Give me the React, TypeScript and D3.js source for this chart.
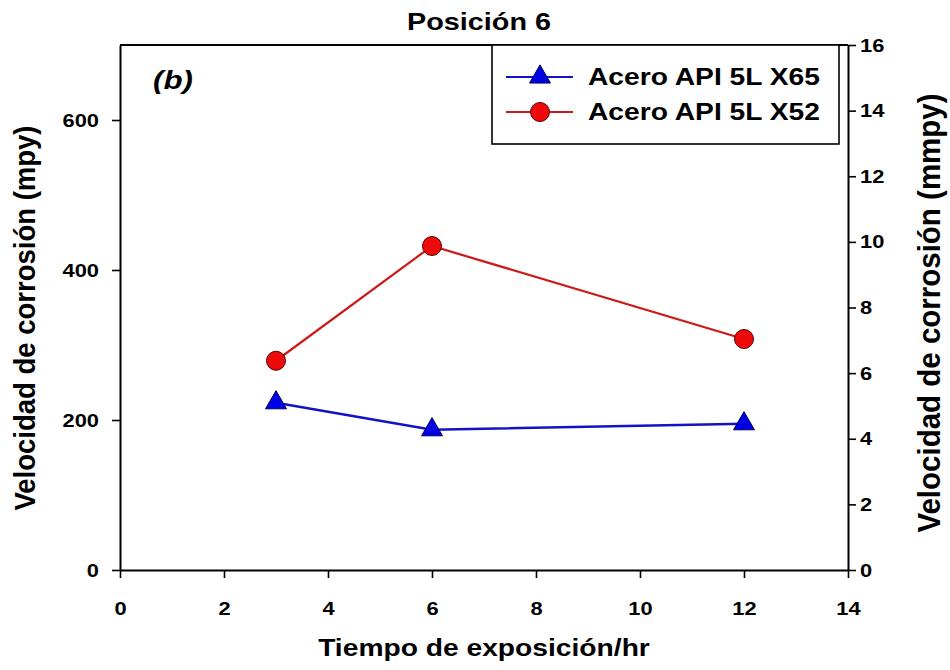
import { useEffect, useRef } from 'react';
import * as d3 from 'd3';

// exposure time (hr)
const timeValues = [3, 6, 12];
// corrosion rate (mpy)
const x65Values = [223, 187, 195];
const x52Values = [279, 432, 308];

const xTicks = [0, 2, 4, 6, 8, 10, 12, 14];
const leftTicks = [0, 200, 400, 600];
const rightTicks = [0, 2, 4, 6, 8, 10, 12, 14, 16];

const seriesNames = ['Acero API 5L X65', 'Acero API 5L X52'];
const titleText = 'Posición 6';
const panelText = '(b)';
const xLabel = 'Tiempo de exposición/hr';
const leftLabel = 'Velocidad de corrosión (mpy)';
const rightLabel = 'Velocidad de corrosión (mmpy)';

const FONT = '"Liberation Sans", Arial, sans-serif';
const STRETCH = 1.2; // the original picture is a bit wide, glyphs are stretched

const App = () => {
  const svgRef = useRef<SVGSVGElement>(null);

  useEffect(() => {
    const width = 950;
    const height = 670;
    const margin = { top: 45, right: 102, bottom: 100, left: 120 };

    const svg = d3.select(svgRef.current);
    svg.selectAll('*').remove();
    svg.attr('width', width).attr('height', height);

    const xScale = d3.scaleLinear().domain([0, 14]).range([margin.left, width - margin.right]);
    const yLeft = d3.scaleLinear().domain([0, 700]).range([height - margin.bottom, margin.top]);
    const yRight = d3.scaleLinear().domain([0, 16]).range([height - margin.bottom, margin.top]);

    // widen text like the source image
    const stretch = (sel: any, factor = STRETCH) => {
      sel.each(function (this: SVGTextElement) {
        const w = this.getComputedTextLength();
        d3.select(this).attr('textLength', w * factor).attr('lengthAdjust', 'spacingAndGlyphs');
      });
    };

    const styleAxis = (g: any) => {
      g.attr('font-size', 19).attr('font-family', FONT).attr('font-weight', 'bold');
      g.select('.domain').attr('stroke', '#000').attr('stroke-width', 2);
      g.selectAll('.tick line').attr('stroke', '#000').attr('stroke-width', 1.6);
      g.selectAll('.tick text').attr('fill', '#000');
      stretch(g.selectAll('.tick text'), 1.15);
    };

    // x axis
    const gx = svg.append('g')
      .attr('transform', `translate(0, ${height - margin.bottom})`)
      .call(d3.axisBottom(xScale).tickValues(xTicks).tickSize(8).tickSizeOuter(0).tickPadding(24).tickFormat(d3.format('d')));
    styleAxis(gx);

    // left axis
    const gl = svg.append('g')
      .attr('transform', `translate(${margin.left}, 0)`)
      .call(d3.axisLeft(yLeft).tickValues(leftTicks).tickSize(8).tickSizeOuter(0).tickPadding(13).tickFormat(d3.format('d')));
    styleAxis(gl);

    // right axis
    const gr = svg.append('g')
      .attr('transform', `translate(${width - margin.right}, 0)`)
      .call(d3.axisRight(yRight).tickValues(rightTicks).tickSize(8).tickSizeOuter(0).tickPadding(4).tickFormat(d3.format('d')));
    styleAxis(gr);

    // top border of the frame
    svg.append('line')
      .attr('x1', margin.left).attr('x2', width - margin.right)
      .attr('y1', margin.top).attr('y2', margin.top)
      .attr('stroke', '#000').attr('stroke-width', 2);

    // lines
    const line = d3.line<number>()
      .x((_, i) => xScale(timeValues[i]))
      .y(d => yLeft(d));

    svg.append('path')
      .datum(x52Values)
      .attr('fill', 'none')
      .attr('stroke', '#cc1a1a')
      .attr('stroke-width', 2.2)
      .attr('d', line);

    svg.append('path')
      .datum(x65Values)
      .attr('fill', 'none')
      .attr('stroke', '#1212c8')
      .attr('stroke-width', 2.4)
      .attr('d', line);

    const triangle = d3.symbol().type(d3.symbolTriangle).size(190);

    svg.append('g').selectAll('circle')
      .data(x52Values)
      .join('circle')
      .attr('cx', (_, i) => xScale(timeValues[i]))
      .attr('cy', d => yLeft(d))
      .attr('r', 9.5)
      .attr('fill', '#ee0a0a')
      .attr('stroke', '#5a0000')
      .attr('stroke-width', 1);

    svg.append('g').selectAll('path')
      .data(x65Values)
      .join('path')
      .attr('transform', (d, i) => `translate(${xScale(timeValues[i])}, ${yLeft(d)})`)
      .attr('d', triangle)
      .attr('fill', '#0000e6')
      .attr('stroke', '#000050')
      .attr('stroke-width', 1);

    // legend
    const legend = svg.append('g');
    legend.append('rect')
      .attr('x', 492).attr('y', margin.top)
      .attr('width', 347).attr('height', 99)
      .attr('fill', '#fff').attr('stroke', '#000').attr('stroke-width', 1.6);

    const rows = [
      { name: seriesNames[0], color: '#1212c8', y: 77 },
      { name: seriesNames[1], color: '#cc1a1a', y: 112 },
    ];
    rows.forEach((r, i) => {
      legend.append('line')
        .attr('x1', 506).attr('x2', 573)
        .attr('y1', r.y).attr('y2', r.y)
        .attr('stroke', r.color).attr('stroke-width', 2.2);
      if (i === 0) {
        legend.append('path')
          .attr('transform', `translate(540, ${r.y})`)
          .attr('d', triangle)
          .attr('fill', '#0000e6').attr('stroke', '#000050').attr('stroke-width', 1);
      } else {
        legend.append('circle')
          .attr('cx', 540).attr('cy', r.y).attr('r', 9.5)
          .attr('fill', '#ee0a0a').attr('stroke', '#5a0000').attr('stroke-width', 1);
      }
      legend.append('text')
        .attr('x', 588).attr('y', r.y + 8)
        .style('font-family', FONT).style('font-size', '23.5px').style('font-weight', 'bold')
        .text(r.name);
    });
    stretch(legend.selectAll('text'));

    // title
    const title = svg.append('text')
      .attr('x', 479).attr('y', 30)
      .attr('text-anchor', 'middle')
      .style('font-family', FONT).style('font-size', '24px').style('font-weight', 'bold')
      .text(titleText);
    stretch(title);

    // panel label
    const panel = svg.append('text')
      .attr('x', 153).attr('y', 89)
      .style('font-family', FONT).style('font-size', '26px').style('font-weight', 'bold').style('font-style', 'italic')
      .text(panelText);
    stretch(panel);

    // x axis label
    const xl = svg.append('text')
      .attr('x', 484).attr('y', 656)
      .attr('text-anchor', 'middle')
      .style('font-family', FONT).style('font-size', '23.5px').style('font-weight', 'bold')
      .text(xLabel);
    stretch(xl);

    // y axis labels
    svg.append('text')
      .attr('transform', `translate(35, 318) scale(1.05, 1) rotate(-90)`)
      .attr('text-anchor', 'middle')
      .style('font-family', FONT).style('font-size', '27.5px').style('font-weight', 'bold')
      .text(leftLabel);

    svg.append('text')
      .attr('transform', `translate(940, 313) scale(1.05, 1) rotate(-90)`)
      .attr('text-anchor', 'middle')
      .style('font-family', FONT).style('font-size', '29.5px').style('font-weight', 'bold')
      .text(rightLabel);
  }, []);

  return (
    <svg ref={svgRef} style={{ position: 'absolute', left: 0, top: 0, background: '#fff' }}></svg>
  );
};

export default App;
